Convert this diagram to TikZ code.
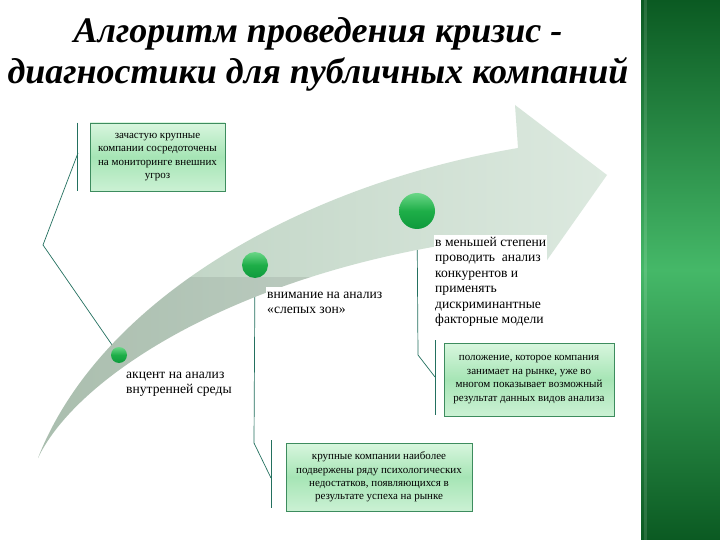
\documentclass[tikz,border=0pt]{standalone}
\usepackage{fontspec}
\setmainfont{Liberation Serif}
\definecolor{barDark}{HTML}{0B5A22}
\definecolor{barLight}{HTML}{45B868}
\definecolor{arrL}{HTML}{B9CFBE}
\definecolor{arrR}{HTML}{DCE9DF}
\definecolor{ballTop}{HTML}{6AD687}
\definecolor{ballMid}{HTML}{1EAE48}
\definecolor{ballBot}{HTML}{0E9A3C}
\definecolor{boxTop}{HTML}{D8F6DE}
\definecolor{boxMid}{HTML}{A6E5B5}
\definecolor{boxBot}{HTML}{CBF1D4}
\definecolor{boxBorder}{HTML}{3D8C5E}
\definecolor{connCol}{HTML}{23705F}
\tikzset{
  ball/.style={circle, inner sep=0pt, minimum size=#1, shading=axis,
    top color=ballTop, bottom color=ballBot, middle color=ballMid},
  gbox/.style={draw=boxBorder, line width=0.8pt, shading=axis,
    top color=boxTop, bottom color=boxBot, middle color=boxMid,
    align=center, inner sep=0pt, font=\fontsize{11}{13.4}\selectfont},
  conn/.style={draw=connCol, line width=0.7pt},
  lbl/.style={fill=white, align=left, inner sep=1pt, anchor=north west,
    font=\fontsize{13.6}{15.4}\selectfont},
  ttl/.style={anchor=base, font=\fontsize{36}{42}\selectfont\bfseries\itshape}
}
\def\arrowpath{(38,458) .. controls (100,300) and (300,185) .. (518,148)
  -- (515,105) -- (607,175) -- (533,280) -- (520,235)
  .. controls (260,260) and (80,370) .. (38,458) -- cycle}
\begin{document}
\begin{tikzpicture}[x=1pt,y=-1pt]
\useasboundingbox (0,0) rectangle (720,540);
\fill[white] (0,0) rectangle (720,540);
% right green bar
\shade[top color=barDark, bottom color=barDark, middle color=barLight] (641,0) rectangle (720,540);
\fill[white, opacity=0.12] (644,0) rectangle (647,540);
% title
\node[ttl] (t1) at (318,43) {Алгоритм проведения кризис -};
\node[ttl] (t2) at (318,84) {диагностики для публичных компаний};
% balls (named first, drawn later over the arrow)
\path node[ball=16pt] (b1) at (119,355) {}
      node[ball=26pt] (b2) at (255,265) {}
      node[ball=36pt] (b3) at (417,211) {};
% boxes
\node[gbox, minimum width=135pt, minimum height=68pt] (bx1) at (157.5,157)
  {зачастую крупные\\компании сосредоточены\\на мониторинге внешних\\угроз};
\node[gbox, minimum width=170pt, minimum height=73pt] (bx2) at (529,379.5)
  {положение, которое компания\\занимает на рынке, уже во\\многом показывает возможный\\результат данных видов анализа};
\node[gbox, minimum width=186pt, minimum height=68pt] (bx3) at (379,477)
  {крупные компании наиболее\\подвержены ряду психологических\\недостатков, появляющихся в\\результате успеха на рынке};
% bracket lines beside boxes
\coordinate (s1a) at ([xshift=-12pt]bx1.north west);
\coordinate (s1b) at ([xshift=-12pt]bx1.south west);
\coordinate (s2a) at (435,340);
\coordinate (s2b) at (435,415);
\coordinate (s3a) at (271,440);
\coordinate (s3b) at (271,508);
\draw[conn] (s1a) -- (s1b);
\draw[conn] (s2a) -- (s2b);
\draw[conn] (s3a) -- (s3b);
% connectors from balls to brackets
\coordinate (k1) at (43,245);
\coordinate (j1) at (78,153);
\coordinate (k2) at (254,443);
\coordinate (j2) at (271,478);
\coordinate (k3) at (418,355);
\coordinate (j3) at (435,377);
\draw[conn] (b1.center) -- (k1) -- (j1);
\draw[conn] (b2.center) -- (k2) -- (j2);
\draw[conn] (b3.center) -- (k3) -- (j3);
% arrow
\shade[left color=arrL, right color=arrR] \arrowpath;
\begin{scope}
  \clip \arrowpath;
  \fill[black, opacity=0.08] (0,277) rectangle (530,540);
\end{scope}
% balls drawn on top
\node[ball=16pt] at (b1) {};
\node[ball=26pt] at (b2) {};
\node[ball=36pt] at (b3) {};
% labels
\node[lbl] (la) at (125,366.5) {\strut акцент на анализ\\внутренней среды};
\node[lbl] (lb) at (266,286.5) {\strut внимание на анализ\\«слепых зон»};
\node[lbl] (lc) at (434,234.5) {\strut в меньшей степени\\проводить~ анализ\\конкурентов и\\применять\\дискриминантные\\факторные модели};
\end{tikzpicture}
\end{document}
